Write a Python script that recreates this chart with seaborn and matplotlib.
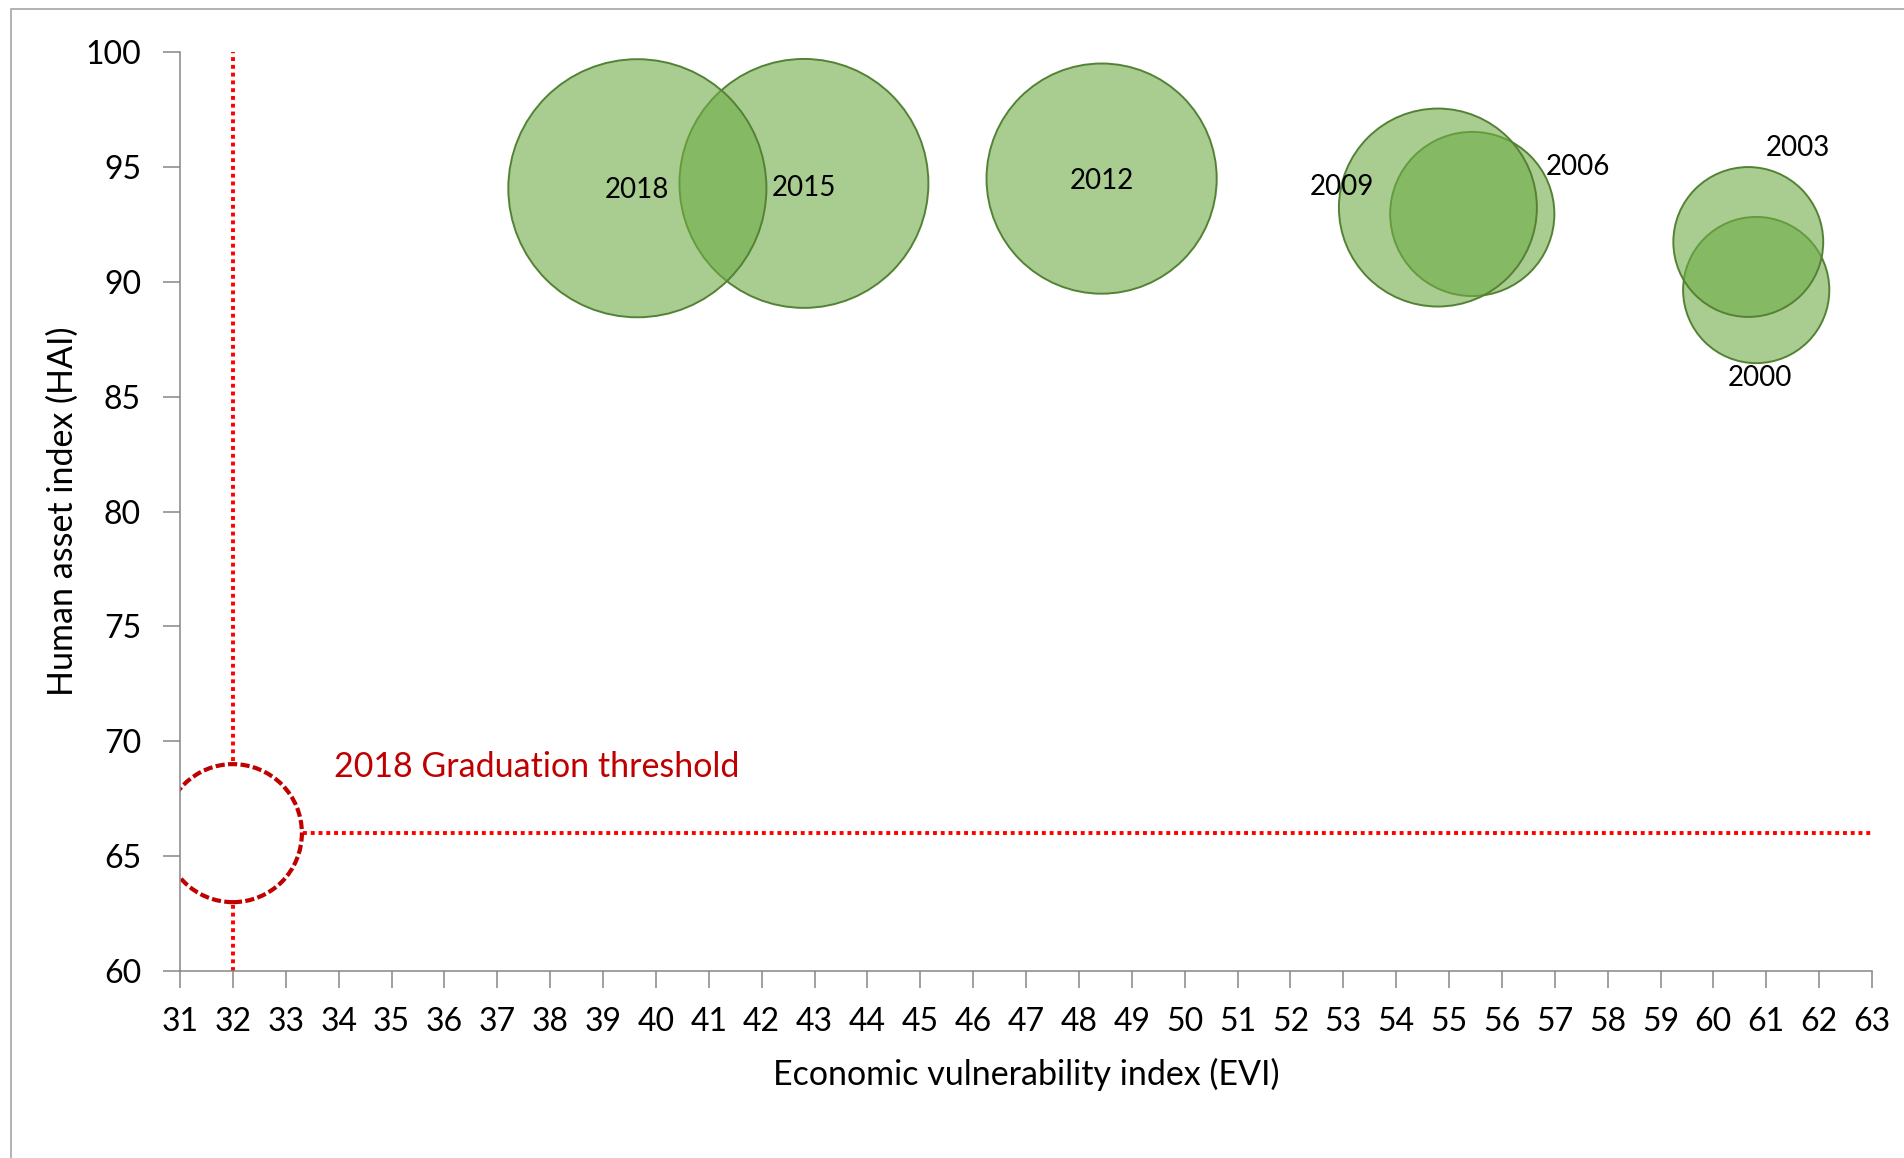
import matplotlib
matplotlib.use("Agg")
import matplotlib.pyplot as plt
import seaborn as sns
import numpy as np
import pandas as pd
from matplotlib.colors import to_rgba
from matplotlib.patches import Rectangle

# data
years = ['2000', '2003', '2006', '2009', '2012', '2015', '2018']
evi = [60.81, 60.66, 55.44, 54.79, 48.43, 42.80, 39.65]
hai = [89.64, 91.73, 92.95, 93.23, 94.49, 94.28, 94.07]
gni = [1380, 1450, 1740, 2530, 3420, 4000, 4300]   # bubble size

evi_threshold = 32
hai_threshold = 66
gni_threshold = 1230
threshold_label = '2018 Graduation threshold'

x_ticks = list(range(31, 64))
y_ticks = list(range(60, 101, 5))

# label offsets (points) from the bubble centre
label_offsets = {'2000': (3, -63), '2003': (36, 68), '2006': (76, 34), '2009': (-69, 15),
                 '2012': (0, -2), '2015': (0, -3), '2018': (0, -1.5)}

df = pd.DataFrame({'year': years, 'evi': evi, 'hai': hai, 'gni': gni})

sns.set_style("white")
plt.rcParams['font.family'] = ['Lato', 'DejaVu Sans']
plt.rcParams['text.color'] = 'black'
plt.rcParams['axes.labelcolor'] = 'black'

fig = plt.figure(figsize=(19.04, 11.58), dpi=100)
ax = fig.add_axes([180/1904, 1-971/1158, 1692/1904, 919/1158])

# area per unit of gni (points^2)
k = 8.03

# threshold lines
ax.axvline(evi_threshold, color='#FF0000', lw=2.8, ls=(0, (1, 1)), zorder=1)
ax.hlines(hai_threshold, evi_threshold, x_ticks[-1], color='#FF0000', lw=2.8, ls=(0, (1, 1)), zorder=1)

# threshold bubble
ax.scatter([evi_threshold], [hai_threshold], s=[k*gni_threshold], facecolor='white',
           edgecolor='#C00000', linewidths=3.0, linestyle=(0, (2.2, 0.8)), zorder=2)

sns.scatterplot(data=df, x='evi', y='hai', size='gni', sizes=(k*min(gni), k*max(gni)),
                legend=False, ax=ax, zorder=3)
coll = ax.collections[-1]
coll.set_facecolor(to_rgba('#70AD47', 0.6))
coll.set_edgecolor('#548235')
coll.set_linewidth(1.4)

for i, row in df.iterrows():
    ax.annotate(row['year'], (row['evi'], row['hai']), xytext=label_offsets[row['year']],
                textcoords='offset points', ha='center', va='center', fontsize=20,
                color='black', zorder=4)

ax.text(33.91, 68.88, threshold_label, color='#C00000', fontsize=24.5, ha='left', va='center')

ax.set_xlim(x_ticks[0], x_ticks[-1])
ax.set_ylim(y_ticks[0], y_ticks[-1])
ax.set_xticks(x_ticks)
ax.set_yticks(y_ticks)
ax.tick_params(axis='both', direction='out', length=12, width=1.1, color='#868686',
               labelsize=23, labelcolor='black')
ax.tick_params(axis='x', pad=14)
ax.tick_params(axis='y', pad=16)
ax.tick_params(bottom=True, left=True)

for s in ['top', 'right']:
    ax.spines[s].set_visible(False)
for s in ['left', 'bottom']:
    ax.spines[s].set_color('#868686')
    ax.spines[s].set_linewidth(1.1)

ax.set_xlabel('Economic vulnerability index (EVI)', fontsize=24.5)
ax.set_ylabel('Human asset index (HAI)', fontsize=24.5)
ax.xaxis.set_label_coords(0.5, -0.094)
ax.yaxis.set_label_coords(-0.060, 0.5)

# chart area border
fig.patches.append(Rectangle((11/1904, -0.1), 1.2, 1.1 - 9/1158, transform=fig.transFigure,
                             fill=False, edgecolor='#A6A6A6', lw=1.2, zorder=0))

fig.savefig('out.png', dpi=100)
